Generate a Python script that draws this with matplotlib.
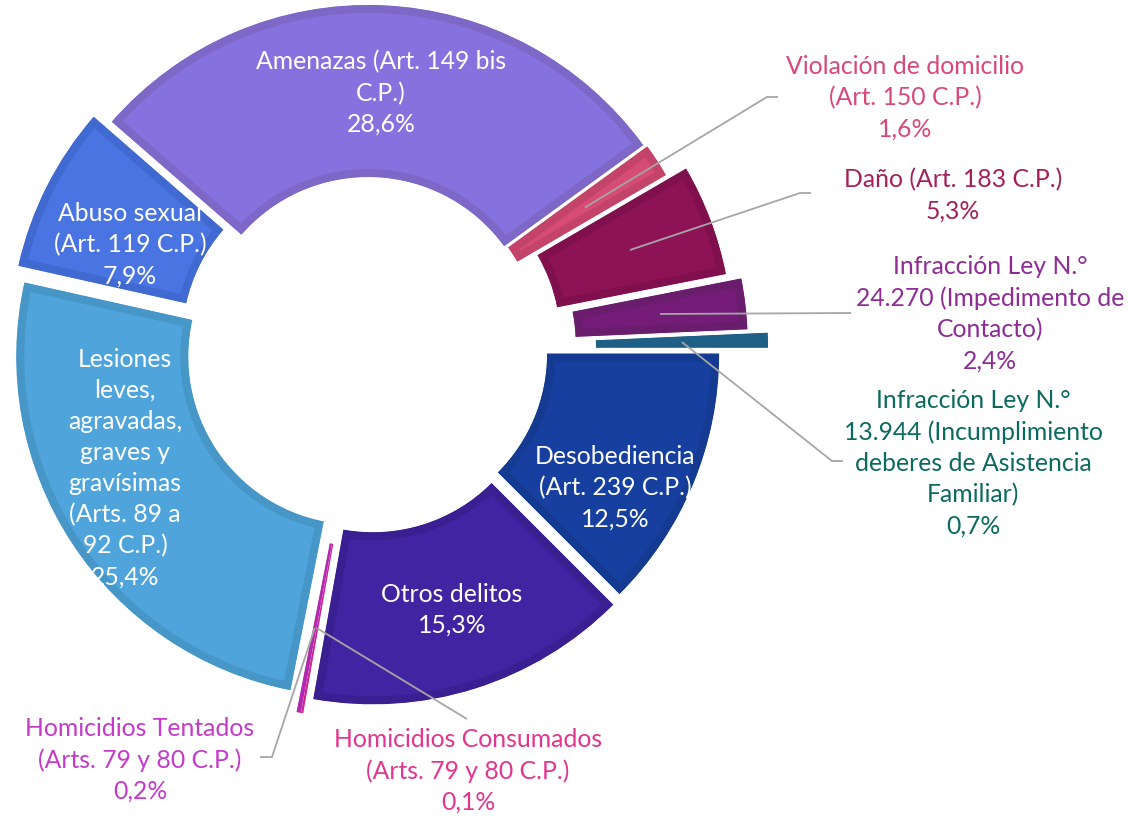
import numpy as np
import matplotlib.pyplot as plt

W, H = 1132, 816
plt.rcParams['font.family'] = ['Lato', 'DejaVu Sans']

# datos (orden horario desde las 3 en punto)
categorias = [
    "Desobediencia\n(Art. 239 C.P.)",
    "Otros delitos",
    "Homicidios Consumados\n(Arts. 79 y 80 C.P.)",
    "Homicidios Tentados\n(Arts. 79 y 80 C.P.)",
    "Lesiones\nleves,\nagravadas,\ngraves y\ngravísimas\n(Arts. 89 a\n92 C.P.)",
    "Abuso sexual\n(Art. 119 C.P.)",
    "Amenazas (Art. 149 bis\nC.P.)",
    "Violación de domicilio\n(Art. 150 C.P.)",
    "Daño (Art. 183 C.P.)",
    "Infracción Ley N.°\n24.270 (Impedimento de\nContacto)",
    "Infracción Ley N.°\n13.944 (Incumplimiento\ndeberes de Asistencia\nFamiliar)",
]
porcentajes = [12.5, 15.3, 0.1, 0.2, 25.4, 7.9, 28.6, 1.6, 5.3, 2.4, 0.7]

# estilos
relleno = ['#163f9f', '#4124a1', '#e0409a', '#c031c0', '#4fa5db', '#4a74e2',
           '#8672de', '#d64c75', '#8e1256', '#741c78', '#1f6087']
borde = ['#143a91', '#3a1f93', '#d4238f', '#b02ab0', '#4696c7', '#4169d2',
         '#7d68c8', '#c4436a', '#7f0f4d', '#6a1c6d', '#1f6087']
color_texto = ['white', 'white', '#e2358f', '#c43ac9', 'white', 'white',
               'white', '#d8497a', '#a52058', '#8e2c96', '#0b6a5f']
separacion = [12, 16, 30, 30, 14, 20, 4, 5, 26, 40, 60]  # px

# layout (pixeles, y hacia abajo)
cx, cy = 368, 349
R, ANCHO = 340, 172
pos_texto = [(615, 488), (452, 610), (468, 771), (140, 760), (125, 468), (130, 245),
             (381, 93), (905, 98), (953, 195), (990, 314), (973, 463)]
# codo y final de la linea guia (None = etiqueta interior)
guia = [None, None, [(467, 719)], [(272, 757), (260, 757)], None, None, None,
        [(767, 97), (778, 97)], [(800, 193), (811, 193)], [(851, 313)],
        [(832, 461), (843, 461)]]

fig = plt.figure(figsize=(W / 100, H / 100), dpi=100)
ax = fig.add_axes([0, 0, 1, 1])

wedges, _ = ax.pie(porcentajes, explode=separacion, colors=relleno, startangle=0,
                   counterclock=False, radius=R, center=(cx, H - cy),
                   wedgeprops=dict(width=ANCHO, linewidth=0), frame=True)

# borde interior: trazo recortado por la propia cuña
for w, ec in zip(wedges, borde):
    w.set_edgecolor(ec)
    w.set_linewidth(16 * 72 / 100)
    w.set_joinstyle('miter')
    w.set_clip_on(True)
    w.set_clip_path(w)

for i, w in enumerate(wedges):
    txt = categorias[i] + "\n" + f"{porcentajes[i]:.1f}".replace('.', ',') + "%"
    x, y = pos_texto[i]
    ax.text(x, H - y, txt, color=color_texto[i], fontsize=17.8, ha='center',
            va='center', multialignment='center', linespacing=1.42)
    if guia[i] is not None:
        tm = np.deg2rad((w.theta1 + w.theta2) / 2)
        rm = w.r - w.width / 2
        x0 = w.center[0] + rm * np.cos(tm)
        y0 = w.center[1] + rm * np.sin(tm)
        xs = [x0] + [p[0] for p in guia[i]]
        ys = [y0] + [H - p[1] for p in guia[i]]
        ax.plot(xs, ys, color='#a6a6a6', lw=1.3, zorder=5, solid_capstyle='butt')

ax.set_xlim(0, W)
ax.set_ylim(0, H)
ax.set_aspect('equal')
ax.axis('off')
fig.savefig('out.png', dpi=100, facecolor='white')
